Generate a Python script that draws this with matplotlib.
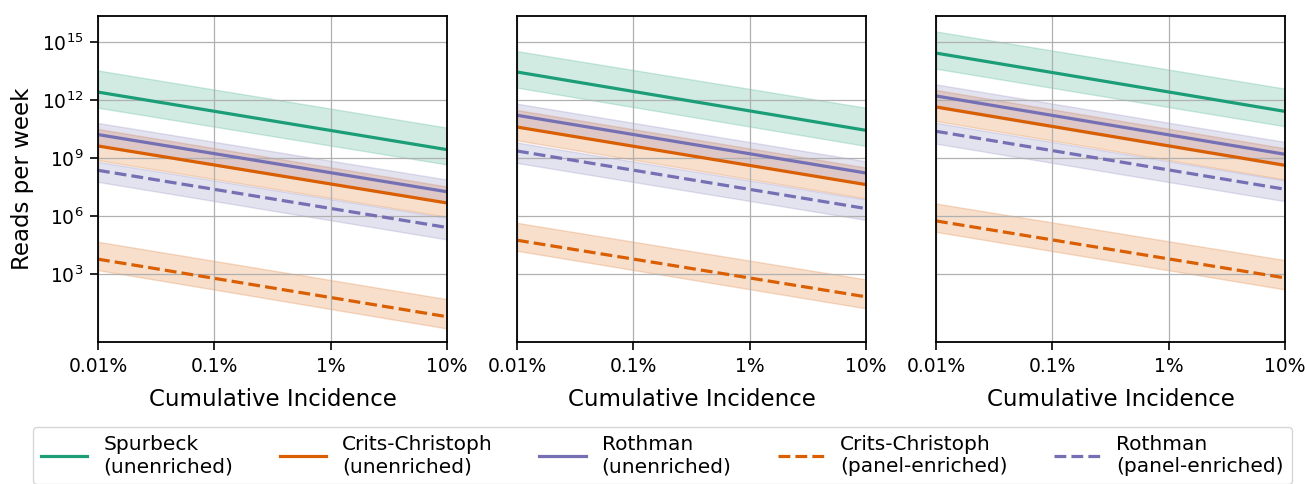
import matplotlib
matplotlib.use("Agg")
import matplotlib.pyplot as plt
import numpy as np

# cumulative incidence at the two ends of each panel
incidence = [1e-4, 1e-1]
x_ticks = [1e-4, 1e-3, 1e-2, 1e-1]
x_labels = ["0.01%", "0.1%", "1%", "10%"]
y_ticks = [1e3, 1e6, 1e9, 1e12, 1e15]

labels = ["Spurbeck\n(unenriched)", "Crits-Christoph\n(unenriched)", "Rothman\n(unenriched)",
          "Crits-Christoph\n(panel-enriched)", "Rothman\n(panel-enriched)"]
colors = ["#1b9e77", "#d95f02", "#7570b3", "#d95f02", "#7570b3"]
styles = ["-", "-", "-", "--", "--"]

# log10(reads per week) per panel: [left, right]
spurbeck_mid = [[12.41, 9.43], [13.45, 10.43], [14.43, 11.41]]
spurbeck_lo = [[11.60, 8.66], [12.64, 9.62], [13.62, 10.64]]
spurbeck_hi = [[13.53, 10.57], [14.53, 11.60], [15.55, 12.59]]

cc_mid = [[9.62, 6.67], [10.60, 7.62], [11.64, 8.62]]
cc_lo = [[8.88, 5.95], [9.91, 6.90], [10.91, 7.88]]
cc_hi = [[10.50, 7.52], [11.48, 8.50], [12.52, 9.50]]

roth_mid = [[10.21, 7.25], [11.21, 8.22], [12.21, 9.19]]
roth_lo = [[9.60, 6.65], [10.60, 7.62], [11.60, 8.58]]
roth_hi = [[10.81, 7.88], [11.81, 8.83], [12.81, 9.83]]

cc_panel_mid = [[3.76, 0.78], [4.74, 1.81], [5.74, 2.79]]
cc_panel_lo = [[3.19, 0.17], [4.19, 1.21], [5.17, 2.19]]
cc_panel_hi = [[4.66, 1.69], [5.64, 2.71], [6.64, 3.71]]

roth_panel_mid = [[8.36, 5.40], [9.36, 6.38], [10.38, 7.38]]
roth_panel_lo = [[7.76, 4.78], [8.74, 5.79], [9.74, 6.76]]
roth_panel_hi = [[8.80, 5.90], [9.80, 6.85], [10.82, 7.84]]

mids = [spurbeck_mid, cc_mid, roth_mid, cc_panel_mid, roth_panel_mid]
los = [spurbeck_lo, cc_lo, roth_lo, cc_panel_lo, roth_panel_lo]
his = [spurbeck_hi, cc_hi, roth_hi, cc_panel_hi, roth_panel_hi]

fig = plt.figure(figsize=(13.05, 4.84), dpi=100)
lefts = [98, 517, 936]
for p in range(3):
    ax = fig.add_axes([lefts[p] / 1305, 1 - 342 / 484, 349 / 1305, 326 / 484])
    handles = []
    for s in range(5):
        ax.fill_between(incidence, 10 ** np.array(los[s][p]), 10 ** np.array(his[s][p]),
                        color=colors[s], alpha=0.2)
        h, = ax.plot(incidence, 10 ** np.array(mids[s][p]), color=colors[s],
                     ls=styles[s], lw=2.3, label=labels[s])
        handles.append(h)
    ax.set_xscale("log"); ax.set_yscale("log")
    ax.set_xlim(1e-4, 1e-1)
    ax.set_ylim(10 ** -0.53, 10 ** 16.35)
    ax.set_xticks(x_ticks)
    ax.set_xticklabels(x_labels)
    ax.set_yticks(y_ticks)
    ax.minorticks_off()
    ax.grid(True, color="#b0b0b0", lw=0.9)
    ax.tick_params(labelsize=13.5, length=5.5, width=1.2, pad=5)
    ax.set_xlabel("Cumulative Incidence", fontsize=16.5, labelpad=9)
    if p == 0:
        ax.set_ylabel("Reads per week", fontsize=16.5, labelpad=6)
    else:
        ax.tick_params(left=False, labelleft=False)
    for sp in ax.spines.values():
        sp.set_linewidth(1.3)

fig.legend(handles=handles, loc="upper left", bbox_to_anchor=(33 / 1305, 1 - 427 / 484),
           ncol=5, fontsize=14.5, handlelength=2.3, columnspacing=2.3, frameon=True,
           fancybox=True, edgecolor="#cccccc", borderaxespad=0)

fig.savefig("out.png", dpi=100)
